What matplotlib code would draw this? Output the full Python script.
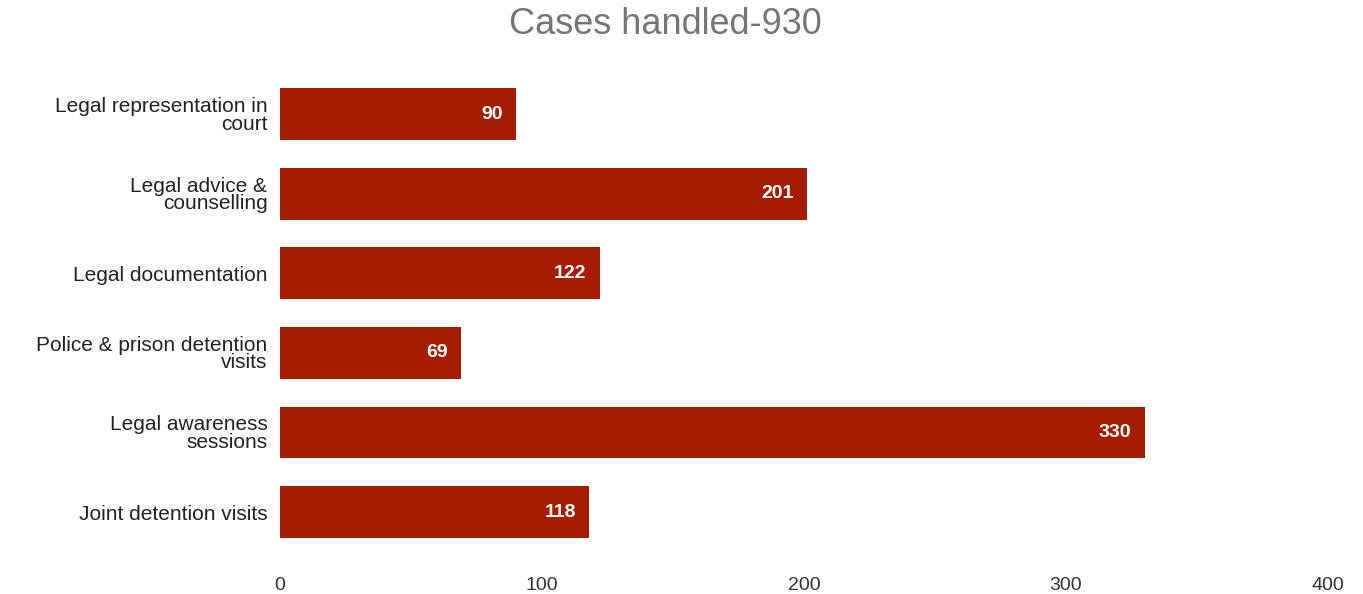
# Horizontal bar chart - cases handled
import matplotlib.pyplot as plt

plt.rcParams['font.family'] = ['Liberation Sans', 'DejaVu Sans']

# Data
categories = ['Legal representation in\ncourt', 'Legal advice &\ncounselling', 'Legal documentation',
              'Police & prison detention\nvisits', 'Legal awareness\nsessions', 'Joint detention visits']
values = [90, 201, 122, 69, 330, 118]
x_ticks = [0, 100, 200, 300, 400]

bar_color = '#a61c00'

fig = plt.figure(figsize=(13.63, 5.94), dpi=100)
ax = fig.add_axes([0.2054, 0.071, 0.7689, 0.804])

y = list(range(len(categories)))
ax.barh(y, values, height=0.65, color=bar_color)
ax.set_ylim(len(categories) - 0.5, -0.5)
ax.set_xlim(0, 400)

# Value labels inside bars
for i, v in enumerate(values):
	ax.text(v - 5, i, str(v), ha='right', va='center', color='white', fontsize=14, fontweight='bold')

# Plot design
ax.set_yticks(y)
ax.set_yticklabels(categories, fontsize=15, color='#222222', linespacing=0.9)
ax.set_xticks(x_ticks)
ax.set_xticklabels([str(t) for t in x_ticks], fontsize=14, color='#333333')
ax.tick_params(axis='both', length=0)
ax.tick_params(axis='x', pad=18)
ax.tick_params(axis='y', pad=9)
for s in ax.spines.values():
	s.set_visible(False)

fig.text(0.488, 0.958, 'Cases handled-930', ha='center', va='center', fontsize=26, color='#757575')

plt.savefig('out.png', dpi=100)
